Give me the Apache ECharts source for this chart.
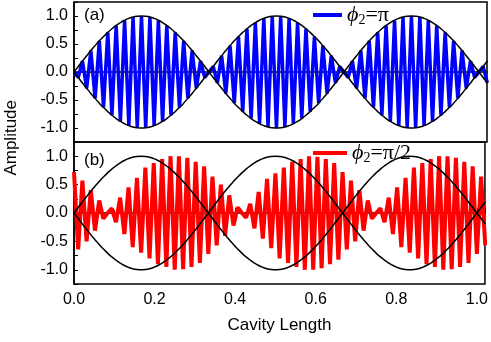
<!DOCTYPE html>
<html>
<head>
<meta charset="utf-8">
<script src="https://cdn.jsdelivr.net/npm/echarts@6/dist/echarts.min.js"></script>
<style>
html,body{margin:0;padding:0;background:#fff}
#chart{width:491px;height:342px}
</style>
</head>
<body>
<div id="chart"></div>
<script>
// one sample per half cycle of the fast oscillation
var step = 1 / 96
// black envelope
var envelope = [0, .098, .195, .290, .383, .471, .556, .634, .707, .773, .831, .882, .924, .957, .981, .995, 1, .995, .981, .957, .924, .882, .831, .773, .707, .634, .556, .471, .383, .290, .195, .098, 0,
    -.098, -.195, -.290, -.383, -.471, -.556, -.634, -.707, -.773, -.831, -.882, -.924, -.957, -.981, -.995, -1, -.995, -.981, -.957, -.924, -.882, -.831, -.773, -.707, -.634, -.556, -.471, -.383, -.290, -.195, -.098, 0,
    .098, .195, .290, .383, .471, .556, .634, .707, .773, .831, .882, .924, .957, .981, .995, 1, .995, .981, .957, .924, .882, .831, .773, .707, .634, .556, .471, .383, .290, .195, .098, 0,
    -.098, -.195]
// blue curve peaks (phi2 = pi)
var bluePeaks = [0, -.098, .195, -.290, .383, -.471, .556, -.634, .707, -.773, .831, -.882, .924, -.957, .981, -.995, 1, -.995, .981, -.957, .924, -.882, .831, -.773, .707, -.634, .556, -.471, .383, -.290, .195, -.098, 0,
    .098, -.195, .290, -.383, .471, -.556, .634, -.707, .773, -.831, .882, -.924, .957, -.981, .995, -1, .995, -.981, .957, -.924, .882, -.831, .773, -.707, .634, -.556, .471, -.383, .290, -.195, .098, 0,
    -.098, .195, -.290, .383, -.471, .556, -.634, .707, -.773, .831, -.882, .924, -.957, .981, -.995, 1, -.995, .981, -.957, .924, -.882, .831, -.773, .707, -.634, .556, -.471, .383, -.290, .195, -.098, 0,
    .098, -.195]
// red curve peaks (phi2 = pi/2)
var redPeaks = [.72, -.64, .57, -.50, .40, -.31, .22, -.10, 0, .08, -.16, .27, -.37, .45, -.60, .62, -.70, .80, -.80, .88, -.90, .95, -.95, 1.0, -1.0, 1.0, -.99, .97, -.95, .90, -.88, .82,
    -.72, .64, -.57, .50, -.40, .31, -.22, .10, 0, -.08, .16, -.27, .37, -.45, .60, -.62, .70, -.80, .80, -.88, .90, -.95, .95, -1.0, 1.0, -1.0, .99, -.97, .95, -.90, .88, -.82,
    .72, -.64, .57, -.50, .40, -.31, .22, -.10, 0, .08, -.16, .27, -.37, .45, -.60, .62, -.70, .80, -.80, .88, -.90, .95, -.95, 1.0, -1.0, 1.0, -.99, .97, -.95, .90, -.88, .82,
    -.72, .64, -.57]
var xTicks = [0, 0.2, 0.4, 0.6, 0.8, 1.0]
var yTicks = [-1.0, -0.5, 0, 0.5, 1.0]

var font = 'Liberation Sans, Arial, sans-serif'
var serif = 'Liberation Serif, Times New Roman, serif'

function pairs(arr, sign) {
    return arr.map(function(v, i) {
        return [i * step, sign * v]
    })
}
function onTick(list, v) {
    return list.some(function(t) { return Math.abs(t - v) < 1e-6 })
}

var chart = echarts.init(document.getElementById('chart'))

function yAxis(idx) {
    return {
        gridIndex: idx,
        type: 'value',
        min: -1.25,
        max: 1.25,
        interval: 0.25,
        axisLine: { show: true, lineStyle: { color: '#000', width: 1.5 } },
        axisTick: { inside: true, length: 4, lineStyle: { color: '#000', width: 1 } },
        axisLabel: {
            color: '#000', fontSize: 16, fontFamily: font, margin: 6,
            formatter: function(v) { return onTick(yTicks, v) ? v.toFixed(1) : '' }
        },
        splitLine: { show: false }
    }
}

var legendText = {
    pi: '{p|ϕ}{s|2}{t|=π}',
    half: '{p|ϕ}{s|2}{t|=π/2}'
}
var rich = {
    p: { fontFamily: serif, fontStyle: 'italic', fontSize: 22, color: '#000' },
    s: { fontFamily: serif, fontSize: 14, color: '#000', padding: [11, 0, 0, 0] },
    t: { fontFamily: serif, fontSize: 22, color: '#000' }
}

var option = {
    animation: false,
    backgroundColor: '#fff',
    title: [
        { text: '(a)', left: 84, top: 7, padding: 0, textStyle: { fontSize: 17, fontWeight: 'normal', fontFamily: font, color: '#000' } },
        { text: '(b)', left: 84, top: 152, padding: 0, textStyle: { fontSize: 17, fontWeight: 'normal', fontFamily: font, color: '#000' } }
    ],
    legend: [
        { data: ['pi'], left: 313, top: 4, padding: 0, icon: 'rect', itemWidth: 29, itemHeight: 4,
          formatter: function(n) { return legendText[n] }, textStyle: { rich: rich } },
        { data: ['half'], left: 313, top: 142, padding: 0, icon: 'rect', itemWidth: 34, itemHeight: 4,
          formatter: function(n) { return legendText[n] }, textStyle: { rich: rich } }
    ],
    grid: [
        { left: 74, right: 4, top: 2, height: 140, show: true, borderColor: '#000', borderWidth: 1.5 },
        { left: 74, right: 4, top: 142, height: 142, show: true, borderColor: '#000', borderWidth: 1.5 }
    ],
    xAxis: [
        { gridIndex: 0, type: 'value', min: 0, max: 1.02, interval: 0.2,
          axisLine: { lineStyle: { color: '#000', width: 1.5 } },
          axisTick: { show: false }, axisLabel: { show: false }, splitLine: { show: false } },
        { gridIndex: 1, type: 'value', min: 0, max: 1.02, interval: 0.2,
          name: 'Cavity Length', nameLocation: 'middle', nameGap: 33,
          nameTextStyle: { color: '#000', fontSize: 17, fontFamily: font },
          axisLine: { lineStyle: { color: '#000', width: 1.5 } },
          axisTick: { inside: true, length: 5, lineStyle: { color: '#000', width: 1 } },
          minorTick: { show: true, splitNumber: 2, length: 3, lineStyle: { color: '#000', width: 1 } },
          axisLabel: { color: '#000', fontSize: 16, fontFamily: font, margin: 8,
              formatter: function(v) { return onTick(xTicks, v) ? v.toFixed(1) : '' } },
          splitLine: { show: false } }
    ],
    yAxis: [yAxis(0), yAxis(1)],
    graphic: [
        { type: 'text', left: 3, top: 100, rotation: Math.PI / 2,
          style: { text: 'Amplitude', fontSize: 17, fontFamily: font, fill: '#000' } }
    ],
    series: [
        { name: 'pi', type: 'line', xAxisIndex: 0, yAxisIndex: 0, symbol: 'none', color: '#0000ff',
          lineStyle: { width: 3.5 }, data: pairs(bluePeaks, 1) },
        { name: 'env1', type: 'line', xAxisIndex: 0, yAxisIndex: 0, symbol: 'none', smooth: true, color: '#000',
          lineStyle: { width: 1.5 }, data: pairs(envelope, 1) },
        { name: 'env2', type: 'line', xAxisIndex: 0, yAxisIndex: 0, symbol: 'none', smooth: true, color: '#000',
          lineStyle: { width: 1.5 }, data: pairs(envelope, -1) },
        { name: 'half', type: 'line', xAxisIndex: 1, yAxisIndex: 1, symbol: 'none', color: '#ff0000',
          lineStyle: { width: 4 }, data: pairs(redPeaks, 1) },
        { name: 'env3', type: 'line', xAxisIndex: 1, yAxisIndex: 1, symbol: 'none', smooth: true, color: '#000',
          lineStyle: { width: 1.5 }, data: pairs(envelope, 1) },
        { name: 'env4', type: 'line', xAxisIndex: 1, yAxisIndex: 1, symbol: 'none', smooth: true, color: '#000',
          lineStyle: { width: 1.5 }, data: pairs(envelope, -1) }
    ]
}
chart.setOption(option)
</script>
</body>
</html>
